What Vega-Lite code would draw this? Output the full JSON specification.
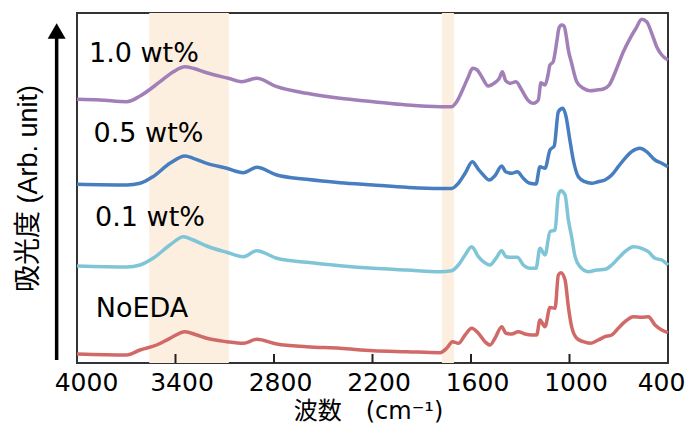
{
  "$schema": "https://vega.github.io/schema/vega-lite/v6.json",
  "width": 591,
  "height": 350,
  "autosize": {"type": "none"},
  "padding": {"left": 77, "top": 13, "right": 22, "bottom": 60},
  "background": "white",
  "config": {
    "view": {"stroke": "#333333", "strokeWidth": 2},
    "font": "DejaVu Sans"
  },
  "datasets": {
    "spectra": [
      {"series": "1.0 wt%", "w": 4000, "v": 263.7}, {"series": "1.0 wt%", "w": 3860, "v": 263}, {"series": "1.0 wt%", "w": 3697, "v": 261.3}, {"series": "1.0 wt%", "w": 3616, "v": 267}, {"series": "1.0 wt%", "w": 3494, "v": 281.3}, {"series": "1.0 wt%", "w": 3413, "v": 291.3}, {"series": "1.0 wt%", "w": 3342, "v": 296.3}, {"series": "1.0 wt%", "w": 3292, "v": 294.7}, {"series": "1.0 wt%", "w": 3210, "v": 290.3}, {"series": "1.0 wt%", "w": 3078, "v": 284.7}, {"series": "1.0 wt%", "w": 2997, "v": 281.3}, {"series": "1.0 wt%", "w": 2905, "v": 284.7}, {"series": "1.0 wt%", "w": 2783, "v": 276.3}, {"series": "1.0 wt%", "w": 2601, "v": 269.7}, {"series": "1.0 wt%", "w": 2398, "v": 264.7}, {"series": "1.0 wt%", "w": 2195, "v": 261.3}, {"series": "1.0 wt%", "w": 1992, "v": 258}, {"series": "1.0 wt%", "w": 1789, "v": 256.3}, {"series": "1.0 wt%", "w": 1718, "v": 256.3}, {"series": "1.0 wt%", "w": 1687, "v": 261.3}, {"series": "1.0 wt%", "w": 1647, "v": 274.7}, {"series": "1.0 wt%", "w": 1616, "v": 286.3}, {"series": "1.0 wt%", "w": 1590, "v": 294.7}, {"series": "1.0 wt%", "w": 1562, "v": 293}, {"series": "1.0 wt%", "w": 1535, "v": 286.3}, {"series": "1.0 wt%", "w": 1495, "v": 277}, {"series": "1.0 wt%", "w": 1454, "v": 280.3}, {"series": "1.0 wt%", "w": 1428, "v": 284.7}, {"series": "1.0 wt%", "w": 1409, "v": 291.3}, {"series": "1.0 wt%", "w": 1389, "v": 282.3}, {"series": "1.0 wt%", "w": 1362, "v": 279.7}, {"series": "1.0 wt%", "w": 1326, "v": 281.3}, {"series": "1.0 wt%", "w": 1291, "v": 273}, {"series": "1.0 wt%", "w": 1257, "v": 263.7}, {"series": "1.0 wt%", "w": 1220, "v": 259.7}, {"series": "1.0 wt%", "w": 1190, "v": 263}, {"series": "1.0 wt%", "w": 1174, "v": 280.3}, {"series": "1.0 wt%", "w": 1149, "v": 278}, {"series": "1.0 wt%", "w": 1131, "v": 288}, {"series": "1.0 wt%", "w": 1119, "v": 298}, {"series": "1.0 wt%", "w": 1100, "v": 301}, {"series": "1.0 wt%", "w": 1076, "v": 323}, {"series": "1.0 wt%", "w": 1064, "v": 335}, {"series": "1.0 wt%", "w": 1048, "v": 338}, {"series": "1.0 wt%", "w": 1033, "v": 337}, {"series": "1.0 wt%", "w": 1021, "v": 328}, {"series": "1.0 wt%", "w": 1007, "v": 313}, {"series": "1.0 wt%", "w": 987, "v": 299.7}, {"series": "1.0 wt%", "w": 956, "v": 281.3}, {"series": "1.0 wt%", "w": 916, "v": 274.7}, {"series": "1.0 wt%", "w": 875, "v": 272.3}, {"series": "1.0 wt%", "w": 834, "v": 273}, {"series": "1.0 wt%", "w": 794, "v": 274}, {"series": "1.0 wt%", "w": 758, "v": 278}, {"series": "1.0 wt%", "w": 712, "v": 294.7}, {"series": "1.0 wt%", "w": 672, "v": 311.3}, {"series": "1.0 wt%", "w": 631, "v": 324.7}, {"series": "1.0 wt%", "w": 595, "v": 334.7}, {"series": "1.0 wt%", "w": 560, "v": 343.7}, {"series": "1.0 wt%", "w": 530, "v": 341.3}, {"series": "1.0 wt%", "w": 499, "v": 329.7}, {"series": "1.0 wt%", "w": 469, "v": 316.3}, {"series": "1.0 wt%", "w": 438, "v": 308}, {"series": "1.0 wt%", "w": 400, "v": 303},

      {"series": "0.5 wt%", "w": 4000, "v": 178.7}, {"series": "0.5 wt%", "w": 3697, "v": 178}, {"series": "0.5 wt%", "w": 3616, "v": 179.7}, {"series": "0.5 wt%", "w": 3537, "v": 186.3}, {"series": "0.5 wt%", "w": 3434, "v": 199.7}, {"series": "0.5 wt%", "w": 3342, "v": 207}, {"series": "0.5 wt%", "w": 3292, "v": 204.7}, {"series": "0.5 wt%", "w": 3210, "v": 199.7}, {"series": "0.5 wt%", "w": 3088, "v": 194.7}, {"series": "0.5 wt%", "w": 2987, "v": 190.3}, {"series": "0.5 wt%", "w": 2905, "v": 195.7}, {"series": "0.5 wt%", "w": 2783, "v": 188}, {"series": "0.5 wt%", "w": 2601, "v": 183.7}, {"series": "0.5 wt%", "w": 2398, "v": 180.3}, {"series": "0.5 wt%", "w": 2195, "v": 178}, {"series": "0.5 wt%", "w": 1992, "v": 175.7}, {"series": "0.5 wt%", "w": 1789, "v": 174.5}, {"series": "0.5 wt%", "w": 1718, "v": 174.5}, {"series": "0.5 wt%", "w": 1677, "v": 179.7}, {"series": "0.5 wt%", "w": 1636, "v": 189.7}, {"series": "0.5 wt%", "w": 1592, "v": 201.3}, {"series": "0.5 wt%", "w": 1555, "v": 193.7}, {"series": "0.5 wt%", "w": 1525, "v": 188}, {"series": "0.5 wt%", "w": 1488, "v": 183}, {"series": "0.5 wt%", "w": 1454, "v": 187.3}, {"series": "0.5 wt%", "w": 1413, "v": 197}, {"series": "0.5 wt%", "w": 1389, "v": 191.3}, {"series": "0.5 wt%", "w": 1352, "v": 189.7}, {"series": "0.5 wt%", "w": 1318, "v": 191.3}, {"series": "0.5 wt%", "w": 1281, "v": 184.7}, {"series": "0.5 wt%", "w": 1241, "v": 179.7}, {"series": "0.5 wt%", "w": 1204, "v": 179}, {"series": "0.5 wt%", "w": 1180, "v": 196.3}, {"series": "0.5 wt%", "w": 1149, "v": 194.7}, {"series": "0.5 wt%", "w": 1119, "v": 213}, {"series": "0.5 wt%", "w": 1093, "v": 217}, {"series": "0.5 wt%", "w": 1068, "v": 251.3}, {"series": "0.5 wt%", "w": 1041, "v": 254.7}, {"series": "0.5 wt%", "w": 1021, "v": 246.3}, {"series": "0.5 wt%", "w": 1001, "v": 226.3}, {"series": "0.5 wt%", "w": 977, "v": 203}, {"series": "0.5 wt%", "w": 946, "v": 186.3}, {"series": "0.5 wt%", "w": 906, "v": 181.3}, {"series": "0.5 wt%", "w": 865, "v": 179.7}, {"series": "0.5 wt%", "w": 825, "v": 181.3}, {"series": "0.5 wt%", "w": 784, "v": 183}, {"series": "0.5 wt%", "w": 743, "v": 188}, {"series": "0.5 wt%", "w": 703, "v": 196.3}, {"series": "0.5 wt%", "w": 662, "v": 204.7}, {"series": "0.5 wt%", "w": 621, "v": 211.3}, {"series": "0.5 wt%", "w": 571, "v": 214.7}, {"series": "0.5 wt%", "w": 530, "v": 211.3}, {"series": "0.5 wt%", "w": 479, "v": 203}, {"series": "0.5 wt%", "w": 438, "v": 199.7}, {"series": "0.5 wt%", "w": 400, "v": 196.3},

      {"series": "0.1 wt%", "w": 4000, "v": 97}, {"series": "0.1 wt%", "w": 3697, "v": 96}, {"series": "0.1 wt%", "w": 3616, "v": 98}, {"series": "0.1 wt%", "w": 3537, "v": 104.7}, {"series": "0.1 wt%", "w": 3434, "v": 118}, {"series": "0.1 wt%", "w": 3352, "v": 126.3}, {"series": "0.1 wt%", "w": 3292, "v": 123}, {"series": "0.1 wt%", "w": 3210, "v": 117}, {"series": "0.1 wt%", "w": 3088, "v": 110.7}, {"series": "0.1 wt%", "w": 2987, "v": 106.3}, {"series": "0.1 wt%", "w": 2905, "v": 112.3}, {"series": "0.1 wt%", "w": 2783, "v": 104.7}, {"series": "0.1 wt%", "w": 2601, "v": 100.7}, {"series": "0.1 wt%", "w": 2398, "v": 97.3}, {"series": "0.1 wt%", "w": 2195, "v": 94.7}, {"series": "0.1 wt%", "w": 1992, "v": 93}, {"series": "0.1 wt%", "w": 1789, "v": 91.3}, {"series": "0.1 wt%", "w": 1718, "v": 92.3}, {"series": "0.1 wt%", "w": 1677, "v": 98}, {"series": "0.1 wt%", "w": 1636, "v": 108}, {"series": "0.1 wt%", "w": 1596, "v": 116.3}, {"series": "0.1 wt%", "w": 1555, "v": 106.3}, {"series": "0.1 wt%", "w": 1525, "v": 101.3}, {"series": "0.1 wt%", "w": 1484, "v": 98}, {"series": "0.1 wt%", "w": 1448, "v": 104.7}, {"series": "0.1 wt%", "w": 1413, "v": 112.3}, {"series": "0.1 wt%", "w": 1387, "v": 106.3}, {"series": "0.1 wt%", "w": 1352, "v": 105.7}, {"series": "0.1 wt%", "w": 1318, "v": 105.7}, {"series": "0.1 wt%", "w": 1281, "v": 98}, {"series": "0.1 wt%", "w": 1241, "v": 94.7}, {"series": "0.1 wt%", "w": 1204, "v": 94.7}, {"series": "0.1 wt%", "w": 1180, "v": 114.7}, {"series": "0.1 wt%", "w": 1149, "v": 108}, {"series": "0.1 wt%", "w": 1119, "v": 131.3}, {"series": "0.1 wt%", "w": 1088, "v": 133}, {"series": "0.1 wt%", "w": 1068, "v": 168}, {"series": "0.1 wt%", "w": 1052, "v": 172.3}, {"series": "0.1 wt%", "w": 1027, "v": 168}, {"series": "0.1 wt%", "w": 1007, "v": 143}, {"series": "0.1 wt%", "w": 987, "v": 126.3}, {"series": "0.1 wt%", "w": 966, "v": 106.3}, {"series": "0.1 wt%", "w": 936, "v": 96.3}, {"series": "0.1 wt%", "w": 885, "v": 91.3}, {"series": "0.1 wt%", "w": 834, "v": 93}, {"series": "0.1 wt%", "w": 784, "v": 93.7}, {"series": "0.1 wt%", "w": 743, "v": 98}, {"series": "0.1 wt%", "w": 703, "v": 104.7}, {"series": "0.1 wt%", "w": 662, "v": 111.3}, {"series": "0.1 wt%", "w": 611, "v": 116.3}, {"series": "0.1 wt%", "w": 560, "v": 114.7}, {"series": "0.1 wt%", "w": 520, "v": 111.3}, {"series": "0.1 wt%", "w": 479, "v": 104.7}, {"series": "0.1 wt%", "w": 438, "v": 103}, {"series": "0.1 wt%", "w": 400, "v": 98},

      {"series": "NoEDA", "w": 4000, "v": 9}, {"series": "NoEDA", "w": 3697, "v": 8}, {"series": "NoEDA", "w": 3616, "v": 13}, {"series": "NoEDA", "w": 3515, "v": 18}, {"series": "NoEDA", "w": 3434, "v": 24.7}, {"series": "NoEDA", "w": 3342, "v": 31.3}, {"series": "NoEDA", "w": 3271, "v": 28}, {"series": "NoEDA", "w": 3210, "v": 24.7}, {"series": "NoEDA", "w": 3088, "v": 21.3}, {"series": "NoEDA", "w": 2987, "v": 19.7}, {"series": "NoEDA", "w": 2905, "v": 23.7}, {"series": "NoEDA", "w": 2783, "v": 19}, {"series": "NoEDA", "w": 2601, "v": 16.3}, {"series": "NoEDA", "w": 2398, "v": 14.7}, {"series": "NoEDA", "w": 2195, "v": 12.3}, {"series": "NoEDA", "w": 1992, "v": 11.3}, {"series": "NoEDA", "w": 1789, "v": 10.3}, {"series": "NoEDA", "w": 1748, "v": 14.7}, {"series": "NoEDA", "w": 1712, "v": 21.3}, {"series": "NoEDA", "w": 1677, "v": 19.7}, {"series": "NoEDA", "w": 1636, "v": 28}, {"series": "NoEDA", "w": 1596, "v": 34.7}, {"series": "NoEDA", "w": 1555, "v": 29.7}, {"series": "NoEDA", "w": 1515, "v": 21.3}, {"series": "NoEDA", "w": 1484, "v": 18}, {"series": "NoEDA", "w": 1454, "v": 24.7}, {"series": "NoEDA", "w": 1413, "v": 36.3}, {"series": "NoEDA", "w": 1387, "v": 29.7}, {"series": "NoEDA", "w": 1352, "v": 29}, {"series": "NoEDA", "w": 1312, "v": 31.3}, {"series": "NoEDA", "w": 1271, "v": 29}, {"series": "NoEDA", "w": 1230, "v": 28}, {"series": "NoEDA", "w": 1200, "v": 28}, {"series": "NoEDA", "w": 1180, "v": 43}, {"series": "NoEDA", "w": 1149, "v": 36.3}, {"series": "NoEDA", "w": 1119, "v": 55.5}, {"series": "NoEDA", "w": 1088, "v": 54.7}, {"series": "NoEDA", "w": 1068, "v": 88}, {"series": "NoEDA", "w": 1052, "v": 90.3}, {"series": "NoEDA", "w": 1027, "v": 83}, {"series": "NoEDA", "w": 1007, "v": 56.3}, {"series": "NoEDA", "w": 987, "v": 36.3}, {"series": "NoEDA", "w": 956, "v": 24.7}, {"series": "NoEDA", "w": 916, "v": 21.3}, {"series": "NoEDA", "w": 875, "v": 19.7}, {"series": "NoEDA", "w": 825, "v": 23}, {"series": "NoEDA", "w": 784, "v": 26.3}, {"series": "NoEDA", "w": 743, "v": 28}, {"series": "NoEDA", "w": 703, "v": 34.7}, {"series": "NoEDA", "w": 662, "v": 41.3}, {"series": "NoEDA", "w": 611, "v": 46.3}, {"series": "NoEDA", "w": 560, "v": 45.7}, {"series": "NoEDA", "w": 520, "v": 46.3}, {"series": "NoEDA", "w": 479, "v": 38}, {"series": "NoEDA", "w": 438, "v": 33}, {"series": "NoEDA", "w": 400, "v": 30.3}
    ],
    "bands": [
      {"from": 3560, "to": 3075},
      {"from": 1777, "to": 1704}
    ],
    "labels": [
      {"label": "1.0 wt%", "w": 3927, "v": 301},
      {"label": "0.5 wt%", "w": 3899, "v": 221},
      {"label": "0.1 wt%", "w": 3890, "v": 137},
      {"label": "NoEDA", "w": 3886, "v": 46}
    ],
    "ticks": [
      {"w": 3400}, {"w": 2800}, {"w": 2200}, {"w": 1600}, {"w": 1000}
    ]
  },
  "layer": [
    {
      "data": {"name": "bands"},
      "mark": {"type": "rect", "color": "#fcefdf"},
      "encoding": {
        "x": {
          "field": "from", "type": "quantitative",
          "scale": {"domain": [400, 4000], "reverse": true, "nice": false, "zero": false},
          "axis": {
            "values": [4000, 3400, 2800, 2200, 1600, 1000, 400],
            "format": "d",
            "zindex": 1,
            "labelFont": "DejaVu Sans",
            "labelFontSize": 25,
            "labelColor": "black",
            "labelFlush": false,
            "labelOverlap": false,
            "labelBound": false,
            "labelPadding": 7,
            "labelOffset": {"expr": "datum.value === 400 ? -7 : (datum.value === 4000 ? 9 : 6)"},
            "ticks": false,
            "tickSize": 0,
            "domain": false,
            "grid": false,
            "title": "波数　(cm⁻¹)",
            "titleFont": "DejaVu Sans, Noto Sans CJK JP",
            "titleFontSize": 24,
            "titleFontWeight": "normal",
            "titleColor": "black",
            "titleX": 291,
            "titleY": 55,
            "titleBaseline": "alphabetic",
            "titleAlign": "center",
            "titleAnchor": null
          }
        },
        "x2": {"field": "to"}
      }
    },
    {
      "data": {"name": "ticks"},
      "mark": {"type": "rule", "color": "#222222", "strokeWidth": 2},
      "encoding": {
        "x": {"field": "w", "type": "quantitative"},
        "y": {"datum": 0, "type": "quantitative"},
        "y2": {"datum": 9}
      }
    },
    {
      "data": {"name": "spectra"},
      "mark": {"type": "line", "strokeWidth": 3.5, "interpolate": "monotone"},
      "encoding": {
        "x": {"field": "w", "type": "quantitative"},
        "y": {
          "field": "v", "type": "quantitative",
          "scale": {"domain": [0, 350], "nice": false, "zero": false},
          "axis": {
            "title": "吸光度 (Arb. unit)",
            "labels": false,
            "ticks": false,
            "domain": false,
            "grid": false,
            "titleFont": "Liberation Sans, Noto Sans CJK JP",
            "titleFontSize": 27,
            "titleFontWeight": "normal",
            "titleColor": "black",
            "titleX": -49,
            "titleY": 175,
            "titleAngle": -90,
            "titleBaseline": "middle",
            "titleAlign": "center",
            "titleAnchor": null
          }
        },
        "color": {
          "field": "series", "type": "nominal",
          "scale": {"domain": ["1.0 wt%", "0.5 wt%", "0.1 wt%", "NoEDA"], "range": ["#a27fb7", "#477ec0", "#7fc5d7", "#d26969"]},
          "legend": null
        },
        "detail": {"field": "series"}
      }
    },
    {
      "data": {"name": "labels"},
      "mark": {"type": "text", "align": "left", "baseline": "alphabetic", "font": "DejaVu Sans", "fontSize": 27, "color": "black"},
      "encoding": {
        "x": {"field": "w", "type": "quantitative"},
        "y": {"field": "v", "type": "quantitative"},
        "text": {"field": "label"}
      }
    },
    {
      "data": {"values": [{}]},
      "mark": {"type": "rule", "color": "black", "strokeWidth": 3.5, "clip": false},
      "encoding": {
        "x": {"datum": 4124, "type": "quantitative"},
        "y": {"datum": 3, "type": "quantitative"},
        "y2": {"datum": 326}
      }
    },
    {
      "data": {"values": [{}]},
      "mark": {"type": "point", "shape": "triangle-up", "filled": true, "color": "black", "opacity": 1, "size": 324, "clip": false},
      "encoding": {
        "x": {"datum": 4124, "type": "quantitative"},
        "y": {"datum": 332, "type": "quantitative"}
      }
    }
  ]
}
